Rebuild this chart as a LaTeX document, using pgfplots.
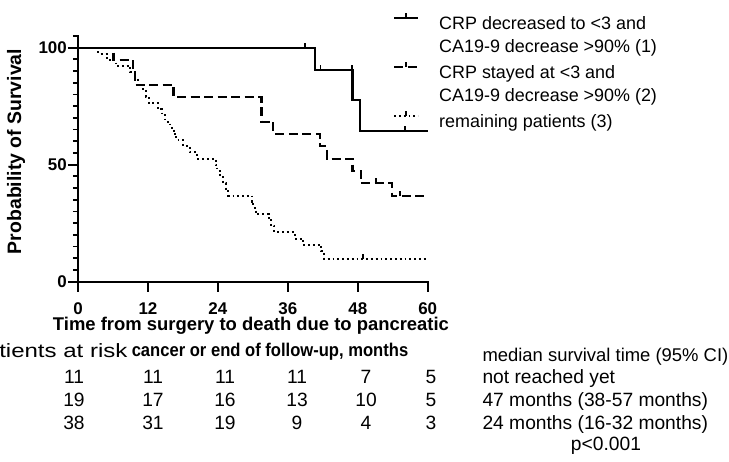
\documentclass[border=0pt]{standalone}
\usepackage{fontspec}
\setmainfont{Liberation Sans}
\usepackage{graphicx}
\usepackage{pgfplots}
\pgfplotsset{compat=1.18}

% censoring tick: a short stroke pointing up from the curve
\pgfdeclareplotmark{cens}{%
  \pgfpathmoveto{\pgfpointorigin}%
  \pgfpathlineto{\pgfpoint{0pt}{\pgfplotmarksize}}%
  \pgfusepathqstroke}

\newcommand\legfont{\fontsize{18}{23}\selectfont}
\newcommand\regfont{\fontsize{19.3}{23}\selectfont}
\newcommand\labfont{\bfseries\fontsize{18.5}{22}\selectfont}
\newcommand\tickfont{\bfseries\fontsize{17}{20}\selectfont}

\tikzset{
  grpA/.style={black, line width=2.2bp, solid},
  grpB/.style={black, line width=2.2bp, dash pattern=on 9bp off 4.5bp},
  grpC/.style={black, line width=2bp, dash pattern=on 1.8bp off 3bp},
}
% legend sample: line with a censoring tick in its middle
\pgfplotsset{
  km legend/.style={legend image code/.code={
    \draw[##1] (0bp,6bp) -- (24bp,6bp);
    \draw[##1, solid, line width=1.7bp] (12bp,6bp) -- (12bp,11bp);}},
}

\begin{document}
\begin{tikzpicture}
\useasboundingbox (0,0) rectangle (729bp,462bp);
\begin{axis}[
  at={(78bp,180.3bp)}, anchor=south west,
  scale only axis, width=349.7bp, height=245.7bp,
  xmin=0, xmax=60, ymin=0, ymax=105,
  axis lines=left,
  axis line style={-, line width=2.2bp, line cap=rect},
  x axis line style={-}, y axis line style={-},
  tick align=outside,
  xtick={0,12,...,60}, ytick={0,50,100},
  minor ytick={5,10,...,105},
  major tick length=10bp, minor tick length=5bp,
  tick style={black, line width=2.2bp},
  minor tick style={line width=1.8bp},
  /pgf/number format/assume math mode=true,
  ticklabel style={font=\tickfont, inner sep=0pt},
  xticklabel shift=11bp,
  yticklabel shift=1bp,
  ylabel={Probability of Survival},
  ylabel style={at={(rel axis cs:-0.177,0.53)}, anchor=center,
    font=\bfseries\fontsize{19.5}{22}\selectfont},
  clip=false,
  legend cell align=left,
  legend style={at={(rel axis cs:0.9008,1.0956)}, anchor=north west,
    draw=none, fill=none, inner sep=0pt, outer sep=0pt,
    nodes={inner sep=0pt, font=\legfont, text height=14bp, text depth=4bp},
    column sep=20bp, row sep=5bp},
]
% legend: one row per printed line, the sample on each entry's first line
\addlegendimage{grpA, km legend}
\addlegendentry{CRP decreased to <3 and}
\addlegendimage{empty legend}
\addlegendentry{CA19-9 decrease >90\% (1)}
\addlegendimage{grpB, km legend}
\addlegendentry{CRP stayed at <3 and}
\addlegendimage{empty legend}
\addlegendentry{CA19-9 decrease >90\% (2)}
\addlegendimage{grpC, km legend}
\addlegendentry{remaining patients (3)}

% (1) CRP decreased to <3 and CA19-9 decrease >90%
\addplot[grpA, const plot, forget plot] coordinates {
  (0,100) (40.7,90.5) (47.1,77.6) (48.4,64.5) (60,64.5)};
% (2) CRP stayed at <3 and CA19-9 decrease >90%
\addplot[grpB, const plot, forget plot] coordinates {
  (0,100) (6.1,94.7) (9.4,89.5) (9.8,84.2) (16.4,78.9) (31.5,68.4)
  (33.5,63.2) (41.5,57.9) (42.7,52.6) (47.1,47.4) (48.5,42.1)
  (53.9,36.5) (60,36.5)};
% (3) remaining patients
\addplot[grpC, const plot, forget plot] coordinates {
  (0,100) (3.5,97.4) (5.0,94.7) (6.5,92.1) (9.0,89.5) (9.8,86.8)
  (10.3,84.2) (11.2,81.6) (11.6,78.9) (12.1,76.3) (13.7,73.7)
  (14.4,71.1) (15.0,68.4) (15.8,65.8) (16.4,63.2) (16.9,60.5)
  (18.1,57.9) (19.2,55.3) (20.5,52.6) (23.6,50.0) (23.9,47.4)
  (24.4,44.7) (24.9,42.1) (25.4,39.5) (25.8,36.8) (29.8,34.2)
  (30.1,31.6) (30.5,28.9) (32.7,26.3) (33.2,23.7) (33.7,21.1)
  (37.2,18.4) (38.6,15.8) (41.7,13.0) (42.2,9.8) (60,9.8)};

% censored observations
\addplot[only marks, mark=cens, mark size=5bp,
  mark options={solid, line width=1.8bp}, forget plot]
  coordinates {(38.9,100) (41.6,90.5) (47.0,90.5) (56.1,64.5)};
\addplot[only marks, mark=cens, mark size=5bp,
  mark options={solid, line width=1.8bp}, forget plot]
  coordinates {(51.1,42.1) (55.2,36.5)};
\addplot[only marks, mark=cens, mark size=5bp,
  mark options={solid, line width=1.6bp}, forget plot]
  coordinates {(48.9,9.8)};
\end{axis}

% x-axis title
\node[anchor=base, font=\labfont] at (251bp, 462bp-331bp)
  {Time from surgery to death due to pancreatic};
\node[anchor=base, font=\labfont] at (270bp, 462bp-357bp)
  {\scalebox{0.9}[1]{cancer or end of follow-up, months}};

% number at risk
\node[anchor=base east, font=\regfont] at (131bp, 462bp-358bp)
  {\scalebox{1.25}[1]{Patients at risk}};
\foreach \x/\a/\b/\c in {74/11/19/38, 153/11/17/31, 225/11/16/19,
                         297/11/13/9, 366/7/10/4, 431/5/5/3} {
  \node[anchor=base, font=\regfont] at (\x bp, 462bp-384bp) {\a};
  \node[anchor=base, font=\regfont] at (\x bp, 462bp-406.5bp) {\b};
  \node[anchor=base, font=\regfont] at (\x bp, 462bp-429.5bp) {\c};
}

% median survival
\node[anchor=base west, font=\fontsize{18.5}{23}\selectfont] at (479bp, 462bp-362bp)
  {median survival time (95\% CI)};
\node[anchor=base west, font=\regfont] at (479bp, 462bp-384bp) {not reached yet};
\node[anchor=base west, font=\regfont] at (479bp, 462bp-406.5bp) {47 months (38-57 months)};
\node[anchor=base west, font=\regfont] at (479bp, 462bp-429.5bp) {24 months (16-32 months)};
\node[anchor=base, font=\regfont] at (606bp, 462bp-450bp) {p<0.001};
\end{tikzpicture}
\end{document}
